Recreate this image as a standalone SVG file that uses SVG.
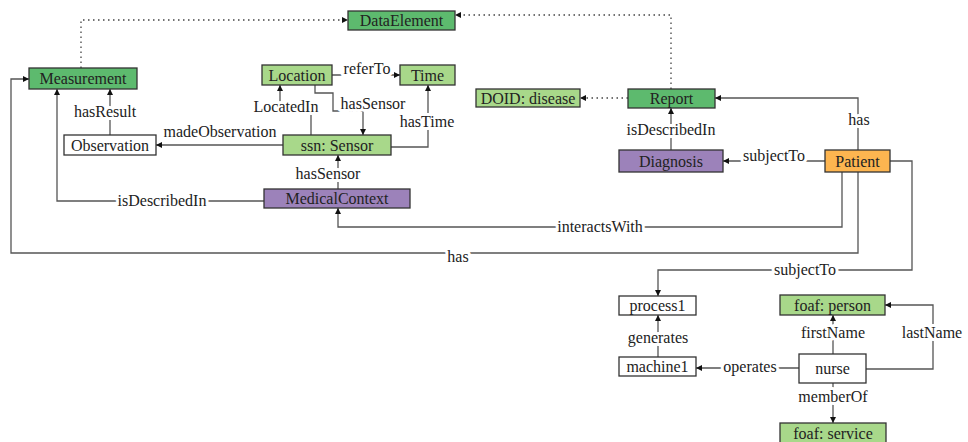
<svg xmlns="http://www.w3.org/2000/svg" width="968" height="442" viewBox="0 0 968 442" font-family="'Liberation Serif', 'DejaVu Serif', serif">
<style>
.n rect{stroke:#333;stroke-width:1.3}
.dg{fill:#5dba6e}.lg{fill:#a8d88a}.pu{fill:#9c82ba}.or{fill:#fdb550}.wh{fill:#fff}
text{font-family:'Liberation Serif','DejaVu Serif',serif;font-size:16px;fill:#222;text-anchor:middle}
.c path{fill:none;stroke:#555;stroke-width:1.3;marker-end:url(#ah)}
.c path.d{stroke:#444;stroke-dasharray:1.5 3.5}
.lbl{paint-order:stroke;stroke:#fff;stroke-width:6px;stroke-linejoin:round}
</style>
<defs>
<marker id="ah" markerUnits="userSpaceOnUse" markerWidth="7" markerHeight="7" refX="6" refY="3" orient="auto"><path d="M0,0 L6,3 L0,6 z" fill="#111"/></marker>
</defs>
<rect width="968" height="442" fill="#fff"/>
<g class="c" id="connectors">
<path class="d" d="M81,68 V20 H348"/>
<path class="d" d="M671,89 V15 H455"/>
<path class="d" d="M628,98 H580"/>
<path d="M332,75 H400"/>
<path d="M311,135 V107 H280 V85"/>
<path d="M315,85 V93 H333 V111 H363 V135"/>
<path d="M391,147 H428 V85"/>
<path d="M283,145 H156"/>
<path d="M110,135 V89"/>
<path d="M338,189 V155"/>
<path d="M264,201 H57 V89"/>
<path d="M842,172 V227 H338 V208"/>
<path d="M858,172 V253 H11 V79 H29"/>
<path d="M858,150 V98 H715"/>
<path d="M825,161 H723"/>
<path d="M671,150 V108"/>
<path d="M890,161 H912 V270 H658 V296"/>
<path d="M658,357 V315"/>
<path d="M799,368 H696"/>
<path d="M833,354 V315"/>
<path d="M866,369 H933 V305 H885"/>
<path d="M833,383 V423"/>
<g id="labels">
<text class="lbl" x="367" y="74">referTo</text>
<text class="lbl" x="286" y="112">LocatedIn</text>
<text class="lbl" x="373" y="109">hasSensor</text>
<text class="lbl" x="427" y="127">hasTime</text>
<text class="lbl" x="220" y="137">madeObservation</text>
<text class="lbl" x="105" y="117">hasResult</text>
<text class="lbl" x="328" y="179">hasSensor</text>
<text class="lbl" x="162" y="206">isDescribedIn</text>
<text class="lbl" x="600" y="232">interactsWith</text>
<text class="lbl" x="458" y="262">has</text>
<text class="lbl" x="859" y="125">has</text>
<text class="lbl" x="774" y="161">subjectTo</text>
<text class="lbl" x="671" y="135">isDescribedIn</text>
<text class="lbl" x="805" y="275">subjectTo</text>
<text class="lbl" x="658" y="343">generates</text>
<text class="lbl" x="750" y="372">operates</text>
<text class="lbl" x="833" y="338">firstName</text>
<text class="lbl" x="932" y="338">lastName</text>
<text class="lbl" x="833" y="402">memberOf</text>
</g>
</g>
<g class="n" id="DataElement"><rect class="dg" x="348" y="11" width="107" height="19"/><text x="401.5" y="26">DataElement</text></g>
<g class="n" id="Measurement"><rect class="dg" x="29" y="68" width="108" height="21"/><text x="83" y="84">Measurement</text></g>
<g class="n" id="Location"><rect class="lg" x="262" y="65" width="70" height="20"/><text x="297" y="80.5">Location</text></g>
<g class="n" id="Time"><rect class="lg" x="400" y="65" width="55" height="20"/><text x="427.5" y="80.5">Time</text></g>
<g class="n" id="Observation"><rect class="wh" x="64" y="135" width="92" height="20"/><text x="110" y="150.5">Observation</text></g>
<g class="n" id="Sensor"><rect class="lg" x="283" y="135" width="108" height="20"/><text x="337" y="150.5">ssn: Sensor</text></g>
<g class="n" id="MedicalContext"><rect class="pu" x="264" y="189" width="146" height="19"/><text x="337" y="204">MedicalContext</text></g>
<g class="n" id="DOID"><rect class="lg" x="476" y="89" width="104" height="18"/><text x="528" y="103.5">DOID: disease</text></g>
<g class="n" id="Report"><rect class="dg" x="628" y="89" width="87" height="19"/><text x="671.5" y="104">Report</text></g>
<g class="n" id="Diagnosis"><rect class="pu" x="619" y="150" width="104" height="22"/><text x="671" y="166.5">Diagnosis</text></g>
<g class="n" id="Patient"><rect class="or" x="825" y="150" width="65" height="22"/><text x="857.5" y="166.5">Patient</text></g>
<g class="n" id="process1"><rect class="wh" x="619" y="296" width="77" height="19"/><text x="657.5" y="311">process1</text></g>
<g class="n" id="person"><rect class="lg" x="780" y="295" width="105" height="20"/><text x="832.5" y="310.5">foaf: person</text></g>
<g class="n" id="machine1"><rect class="wh" x="619" y="357" width="77" height="19"/><text x="657.5" y="372">machine1</text></g>
<g class="n" id="nurse"><rect class="wh" x="799" y="354" width="67" height="29"/><text x="832.5" y="374">nurse</text></g>
<g class="n" id="service"><rect class="lg" x="780" y="423" width="106" height="21"/><text x="833" y="439">foaf: service</text></g>
</svg>
